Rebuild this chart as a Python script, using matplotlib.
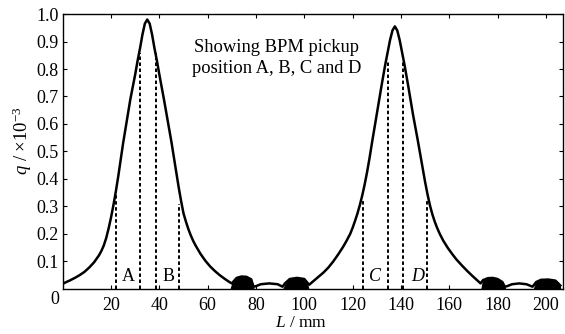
import numpy as np
import matplotlib
matplotlib.use('Agg')
import matplotlib.pyplot as plt

plt.rcParams['font.family'] = ['Liberation Serif', 'DejaVu Serif']
plt.rcParams['mathtext.fontset'] = 'custom'
plt.rcParams['mathtext.rm'] = 'Liberation Serif'
plt.rcParams['mathtext.it'] = 'Liberation Serif:italic'

# ---------------- datos ----------------
# curva q(L), q en unidades de 1e-3, L en mm
L_curva = [0, 1, 3, 5, 7, 9, 11, 13, 15, 16, 17, 18, 19, 20, 21, 22, 23, 24, 25, 28, 30,
           31, 32, 33, 34, 35, 36, 37, 38, 39, 40, 42, 45, 46, 47, 48, 49, 50, 51, 52, 53,
           54, 55, 57, 59, 61, 63, 65, 67, 69, 70,
           71, 72, 74, 76, 78, 79, 80, 82, 85.5, 89, 91, 92, 94, 97, 100, 101.5,
           102, 104, 106, 108, 110, 112, 114, 116, 117.5, 119, 120, 121, 122, 123, 124,
           125, 126, 127, 128, 130, 132, 133.5, 134.5, 135.5, 136.5, 137.5, 138.5, 139.5,
           140.5, 141.5, 143, 145, 147, 148, 149, 150, 151, 152, 153, 154, 155, 156,
           157.5, 159.5, 161.5, 163, 165.5, 167.5, 169.5, 171.5, 173,
           174, 176, 178, 180, 182, 183, 184, 186, 189, 192, 194.5, 196, 198, 201, 204, 206]
q_curva = [0.018, 0.023, 0.031, 0.04, 0.05, 0.062, 0.078, 0.097, 0.122, 0.138, 0.158,
           0.185, 0.22, 0.26, 0.305, 0.355, 0.41, 0.47, 0.53, 0.69, 0.78, 0.83, 0.875,
           0.925, 0.965, 0.98, 0.965, 0.925, 0.875, 0.83, 0.78, 0.685, 0.535, 0.48, 0.425,
           0.37, 0.32, 0.275, 0.245, 0.218, 0.195, 0.175, 0.158, 0.128, 0.103, 0.082,
           0.065, 0.05, 0.037, 0.025, 0.02,
           0.03, 0.04, 0.045, 0.044, 0.035, 0.008, 0.01, 0.017, 0.02, 0.017, 0.008,
           0.02, 0.036, 0.04, 0.036, 0.02,
           0.015, 0.03, 0.045, 0.06, 0.078, 0.1, 0.125, 0.152, 0.175, 0.2, 0.222, 0.247,
           0.274, 0.305, 0.34, 0.38, 0.425, 0.475, 0.53, 0.635, 0.74, 0.815, 0.86, 0.905,
           0.94, 0.955, 0.94, 0.905, 0.86, 0.815, 0.74, 0.635, 0.54, 0.49, 0.44, 0.39,
           0.345, 0.305, 0.272, 0.245, 0.222, 0.202, 0.176, 0.148, 0.124, 0.107, 0.083,
           0.065, 0.048, 0.032, 0.02,
           0.032, 0.039, 0.04, 0.036, 0.025, 0.008, 0.01, 0.017, 0.02, 0.017, 0.008,
           0.025, 0.033, 0.034, 0.03, 0.012]

# lobulos laterales (manchas negras)
lobulos = [
    ([69.5, 70.5, 72, 74, 76, 78, 79], [0.0, 0.03, 0.04, 0.045, 0.044, 0.035, 0.0]),
    ([91.3, 92.3, 94, 97, 100, 101, 101.7], [0.0, 0.02, 0.036, 0.04, 0.036, 0.025, 0.0]),
    ([173.3, 174, 176, 178, 180, 182, 183.2], [0.0, 0.032, 0.039, 0.04, 0.036, 0.025, 0.0]),
    ([195, 196, 198, 201, 204, 205.5, 206], [0.0, 0.025, 0.033, 0.034, 0.03, 0.02, 0.0]),
]

# posiciones de los pickups BPM
L_pickup = [21.9, 32.0, 38.5, 48.2, 124.5, 134.6, 141.0, 151.0]
q_pickup = [0.34, 0.86, 0.86, 0.31, 0.32, 0.83, 0.83, 0.32]

etiquetas = ['A', 'B', 'C', 'D']
L_etiquetas = [27.2, 43.7, 129.3, 146.8]
estilo_etiquetas = ['normal', 'normal', 'italic', 'italic']

x_ticks = [20, 40, 60, 80, 100, 120, 140, 160, 180, 200]
y_ticks = [0.1, 0.2, 0.3, 0.4, 0.5, 0.6, 0.7, 0.8, 0.9, 1.0]

# ---------------- grafico ----------------
fig = plt.figure(figsize=(5.65, 3.34), dpi=100)
ax = fig.add_axes([0.111, 0.135, 0.885, 0.823])

ax.plot(L_curva, q_curva, color='black', lw=1.8, solid_joinstyle='round')
for Lb, qb in lobulos:
    ax.fill_between(Lb, qb, 0, color='black', lw=0.8)

ax.vlines(L_pickup, 0, q_pickup, colors='black', linestyles=(0, (1.8, 1.3)), lw=1.4)

for txt, xl, st in zip(etiquetas, L_etiquetas, estilo_etiquetas):
    ax.text(xl, 0.045, txt, ha='center', va='center', fontsize=13, style=st)

ax.text(88.7, 0.84, 'Showing BPM pickup\nposition A, B, C and D', ha='center',
        va='center', fontsize=13.3, linespacing=1.35)

ax.set_xlim(0, 207)
ax.set_ylim(0, 1.0)
ax.set_xticks(x_ticks)
ax.set_yticks(y_ticks)
ax.set_yticklabels([f'{v:.1f}' for v in y_ticks])
ax.tick_params(direction='in', top=True, right=True, length=3, width=0.8,
               labelsize=13, colors='black')
ax.tick_params(axis='x', pad=6)
ax.tick_params(axis='y', pad=3)
for s in ax.spines.values():
    s.set_linewidth(1.0)

# el "0" del origen
ax.annotate('0', xy=(0, 0), xytext=(-8, -11), textcoords='offset pixels',
            ha='center', va='center', fontsize=13)

ax.set_ylabel(r'$q$ / ×10$^{-3}$', fontsize=13.5)
ax.yaxis.set_label_coords(-0.058, 0.54)
ax.set_xlabel(r'$L$ / mm', fontsize=12.5)
ax.xaxis.set_label_coords(0.477, -0.095)

fig.savefig('out.png', dpi=100)
